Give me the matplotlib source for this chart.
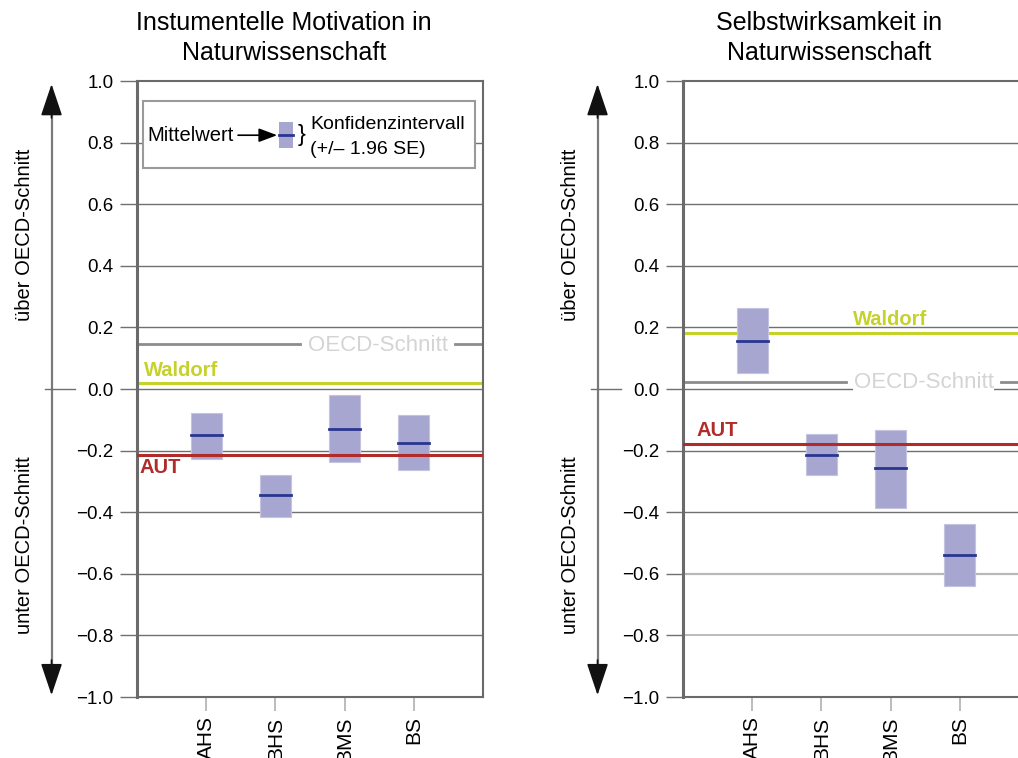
import matplotlib.pyplot as plt
import matplotlib.patches as mpatches

plt.rcParams['font.family'] = ['Liberation Sans', 'DejaVu Sans']

schools = ['AHS', 'BHS', 'BMS', 'BS']

# Instrumentelle Motivation
mot_mean = [-0.15, -0.345, -0.13, -0.175]
mot_low = [-0.228, -0.415, -0.238, -0.263]
mot_high = [-0.077, -0.28, -0.02, -0.085]
mot_oecd = 0.145
mot_waldorf = 0.018
mot_aut = -0.213

# Selbstwirksamkeit
eff_mean = [0.157, -0.213, -0.258, -0.54]
eff_low = [0.053, -0.278, -0.385, -0.641]
eff_high = [0.262, -0.147, -0.133, -0.439]
eff_oecd = 0.024
eff_waldorf = 0.183
eff_aut = -0.178

grid_levels = [-0.8, -0.6, -0.4, -0.2, 0.0, 0.2, 0.4, 0.6, 0.8]

BOX = '#a6a6d0'
MEAN = '#2a3590'
WALDORF = '#c5d22a'
AUT = '#b22b2b'
OECD = '#8c8c8c'
OECD_TXT = '#d4d4d4'
GRID = '#707070'

fig = plt.figure(figsize=(10.18, 7.58), dpi=100)
W, H = 1018, 758


def px_axes(x0, y0, x1, y1):
    return fig.add_axes([x0 / W, 1 - y1 / H, (x1 - x0) / W, (y1 - y0) / H])


def draw_panel(ax, means, lows, highs, oecd, waldorf, aut, grid_colors):
    ax.set_xlim(0, 5)
    ax.set_ylim(-1, 1)
    for lvl in grid_levels:
        c, lw = grid_colors.get(lvl, (GRID, 1.0))
        ax.axhline(lvl, color=c, lw=lw, zorder=1)
    pos = range(1, len(schools) + 1)
    for x, m, lo, hi in zip(pos, means, lows, highs):
        ax.add_patch(mpatches.Rectangle((x - 0.225, lo), 0.45, hi - lo,
                                        facecolor=BOX, edgecolor='#c4c4e0',
                                        lw=0.8, zorder=3))
        ax.plot([x - 0.225, x + 0.225], [m, m], color=MEAN, lw=2, zorder=4)
    # OECD line with a gap for its label
    ax.axhline(oecd, xmax=0.471, color=OECD, lw=2, zorder=2)
    ax.axhline(oecd, xmin=0.918, color=OECD, lw=2, zorder=2)
    ax.text(3.48, oecd - 0.004, 'OECD-Schnitt', color=OECD_TXT, fontsize=16,
            ha='center', va='center', zorder=6,
            bbox=dict(facecolor='white', edgecolor='none', pad=0.5))
    ax.axhline(waldorf, color=WALDORF, lw=2.2, zorder=2)
    ax.axhline(aut, color=AUT, lw=2.2, zorder=5)

    ax.set_xticks(list(pos))
    ax.set_xticklabels(schools, rotation=90, fontsize=15)
    ax.tick_params(axis='x', length=10, width=1.2, color='#b0b0b0', pad=4)
    ax.set_yticks([-1.0, -0.8, -0.6, -0.4, -0.2, 0.0, 0.2, 0.4, 0.6, 0.8, 1.0])
    ax.set_yticklabels([f'{v:.1f}'.replace('-', '\u2212') for v in ax.get_yticks()],
                       fontsize=13.5)
    ax.tick_params(axis='y', length=12, width=1, color=GRID, pad=5)
    for side, sp in ax.spines.items():
        sp.set_color('#6a6a6a')
        sp.set_linewidth(1.5 if side != 'left' else 2.2)

    # vertical double arrow left of the axis: grey shaft, black heads
    ax.plot([-0.247, -0.247], [0.03, 0.97], transform=ax.transAxes,
            color='#7a7a7a', lw=1.6, clip_on=False)
    for tip, tail in ((0.995, 0.94), (0.003, 0.06)):
        ax.annotate('', xy=(-0.247, tip), xytext=(-0.247, tail),
                    xycoords='axes fraction', textcoords='axes fraction',
                    arrowprops=dict(arrowstyle='-|>,head_length=1.25,head_width=0.42',
                                    color='#111111', lw=1.2, shrinkA=0, shrinkB=0,
                                    mutation_scale=16))
    ax.plot([-0.266, -0.179], [0.5, 0.5], transform=ax.transAxes,
            color=GRID, lw=1, clip_on=False)
    ax.text(-0.325, 0.75, 'über OECD-Schnitt', rotation=90, fontsize=14.5,
            ha='center', va='center', transform=ax.transAxes)
    ax.text(-0.325, 0.247, 'unter OECD-Schnitt', rotation=90, fontsize=14.5,
            ha='center', va='center', transform=ax.transAxes)


# left panel
ax1 = px_axes(137, 81, 483, 697)
draw_panel(ax1, mot_mean, mot_low, mot_high, mot_oecd, mot_waldorf, mot_aut, {})
ax1.text(0.1, mot_waldorf + 0.012, 'Waldorf', color=WALDORF, fontsize=14.5,
         fontweight='bold', ha='left', va='bottom')
ax1.text(0.04, mot_aut - 0.012, 'AUT', color=AUT, fontsize=14.5,
         fontweight='bold', ha='left', va='top')

# legend box
ax1.add_patch(mpatches.Rectangle((0.017, 0.858), 0.96, 0.11, transform=ax1.transAxes,
                                 facecolor='white', edgecolor='#9a9a9a', lw=1.5,
                                 zorder=7))
ax1.text(0.03, 0.912, 'Mittelwert', transform=ax1.transAxes, fontsize=14.5,
         ha='left', va='center', zorder=8)
ax1.annotate('', xy=(0.405, 0.912), xytext=(0.292, 0.912),
             xycoords='axes fraction', textcoords='axes fraction', zorder=8,
             arrowprops=dict(arrowstyle='-|>,head_length=0.8,head_width=0.3',
                             color='black', lw=1.2, shrinkA=0, shrinkB=0,
                             mutation_scale=14))
ax1.add_patch(mpatches.Rectangle((0.41, 0.891), 0.042, 0.042, transform=ax1.transAxes,
                                 facecolor=BOX, edgecolor='none', zorder=8))
ax1.plot([0.41, 0.452], [0.912, 0.912], transform=ax1.transAxes, color=MEAN,
         lw=2, zorder=9)
ax1.text(0.465, 0.912, '}', transform=ax1.transAxes, fontsize=17,
         ha='left', va='center', zorder=8)
ax1.text(0.5, 0.93, 'Konfidenzintervall', transform=ax1.transAxes, fontsize=14,
         ha='left', va='center', zorder=8)
ax1.text(0.5, 0.888, '(+/\u2013 1.96 SE)', transform=ax1.transAxes, fontsize=14,
         ha='left', va='center', zorder=8)

# right panel, clipped by the figure edge
ax2 = px_axes(683, 81, 1029, 697)
draw_panel(ax2, eff_mean, eff_low, eff_high, eff_oecd, eff_waldorf, eff_aut,
           {-0.6: ('#b8b8b8', 1.6), -0.8: ('#bcbcbc', 1.4)})
ax2.text(3.0, eff_waldorf + 0.012, 'Waldorf', color=WALDORF, fontsize=14.5,
         fontweight='bold', ha='center', va='bottom')
ax2.text(0.2, eff_aut + 0.012, 'AUT', color=AUT, fontsize=14.5,
         fontweight='bold', ha='left', va='bottom')

fig.text(284 / W, 1 - 38 / H, 'Instumentelle Motivation in\nNaturwissenschaft',
         ha='center', va='center', fontsize=18, linespacing=1.3)
fig.text(829 / W, 1 - 38 / H, 'Selbstwirksamkeit in\nNaturwissenschaft',
         ha='center', va='center', fontsize=18, linespacing=1.3)

fig.savefig('out.png', dpi=100)
